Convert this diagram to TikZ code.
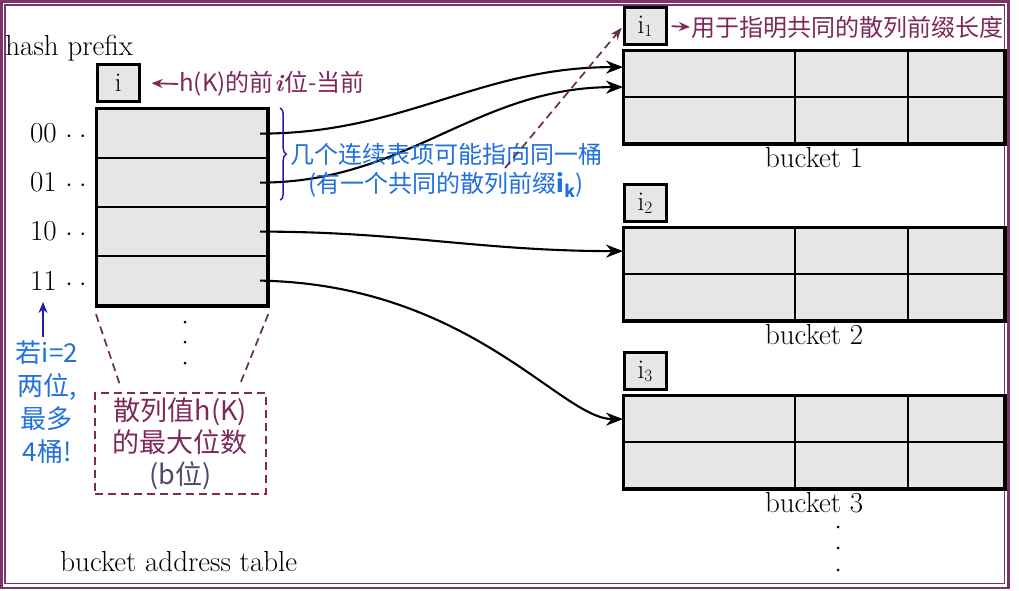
\documentclass[tikz,border=0pt]{standalone}
\usepackage{fontspec}
\newfontfamily\cjk{Noto Sans CJK SC}
\usetikzlibrary{positioning, calc, arrows.meta, decorations.pathreplacing}

\definecolor{framec}{RGB}{122,52,102}
\definecolor{ptext}{RGB}{128,40,88}
\definecolor{pdark}{RGB}{105,45,80}
\definecolor{slate}{RGB}{80,70,110}
\definecolor{btext}{RGB}{32,112,222}
\definecolor{bdark}{RGB}{30,30,170}
\definecolor{cellgray}{RGB}{230,230,230}

\begin{document}
\begin{tikzpicture}[x=1pt, y=-1pt, thick,
    cell/.style={draw, line width=2.2pt, fill=cellgray, inner sep=0pt, anchor=north west},
    ibox/.style={draw, line width=2.6pt, fill=cellgray, inner sep=0pt,
                 minimum width=42pt, minimum height=37pt, font=\fontsize{27}{30}\selectfont},
    lbl/.style={font=\fontsize{29}{33}\selectfont},
    cn/.style={font=\cjk\fontsize{24}{29}\selectfont, inner sep=1pt},
    ptr/.style={line width=2.1pt, -{Stealth[length=17pt,width=13pt]}},
    parrow/.style={ptext, line width=1.8pt, -{Stealth[length=11pt,width=9pt]}},
    pdash/.style={pdark, line width=1.7pt, dash pattern=on 8pt off 5pt}]

	\fill[white] (0,0) rectangle (1019,590);
	\useasboundingbox (0,0) rectangle (1019,590);
	\draw[framec, line width=2.6pt] (1.5,1.5) rectangle (1008.5,588);
	\draw[framec, line width=1.2pt] (5,5) rectangle (1004.5,583.5);

	%bucket address table
	\foreach \r/\y/\b in {1/108/00, 2/157/01, 3/206/10, 4/255/11} {
		\node[cell, minimum width=170pt, minimum height=49pt] (t\r) at (96,\y) {};
		\node[lbl, left=6pt of t\r] (l\r) {\b\ $\cdot\;\cdot$};
		\coordinate (p\r) at ($(t\r.east)+(-8,0)$);
	}
	\draw[line width=3pt] (t1.north west) rectangle (t4.south east);
	\node[ibox, above right=5pt and 0pt of t1.north west] (ib) {i};
	\node[lbl, anchor=base west, inner sep=0pt] (hp) at (5,55) {hash prefix};
	\node[lbl, anchor=base west, inner sep=0pt] (bat) at (60,571) {bucket address table};
	\foreach \y in {322,342,363} \fill (185,\y) circle (1.5pt);

	%buckets
	\foreach \n/\t in {1/50, 2/227, 3/395} {
		\foreach \c/\x/\w in {1/623/171, 2/794/113, 3/907/96}
			\foreach \r in {0,1}
				\node[cell, minimum width=\w pt, minimum height=46pt] (b\n-\r\c) at (\x,{\t+46*\r}) {};
		\draw[line width=3pt] (b\n-01.north west) rectangle (b\n-13.south east);
		\node[ibox, above right=4pt and 0pt of b\n-01.north west] (i\n) {i$_\n$};
		\node[lbl, below=-1pt] (bl\n) at ($(b\n-11.south west)!.5!(b\n-13.south east)$) {bucket \n};
	}
	\foreach \y in {527,548,570} \fill (838,\y) circle (1.5pt);

	%ponteiros
	\draw[ptr] (p1) to[out=0,in=180] ([yshift=7pt]b1-01.west);
	\draw[ptr] (p2) to[out=0,in=180] ([yshift=-13pt]b1-01.west);
	\draw[ptr] (p3) to[out=0,in=180] (b2-01.west);
	\draw[ptr] (p4) .. controls +(210,4) and +(-62,0) .. (b3-01.west);

	%notas
	\node[cn, ptext, anchor=west] (hk) at (178,84) {h(K)的前\kern1pt{\rmfamily\bfseries\itshape i}\kern1pt位-当前};
	\draw[parrow] (hk.west) -- ([xshift=11pt]ib.east);
	\node[cn, ptext, anchor=west] (note1) at (690,27) {用于指明共同的散列前缀长度};
	\draw[parrow] ([xshift=4pt]i1.east) -- (note1.west);

	\draw[bdark, line width=1.5pt, decorate, decoration={brace, amplitude=6pt}]
		([xshift=12pt]t1.north east) -- ([xshift=12pt,yshift=8pt]t2.south east);
	\node[cn, btext, align=center] (same) at (446,170)
		{几个连续表项可能指向同一桶\\(有一个共同的散列前缀\textbf{i}\textsubscript{\textbf{k}})};
	\coordinate (dk) at (505,168);
	\draw[pdash, -{Stealth[length=12pt,width=9pt]}, shorten >=2pt] (dk) -- (i1.west);

	\node[draw=pdark, line width=1.7pt, dash pattern=on 8pt off 5pt, minimum width=171pt,
		minimum height=101pt, anchor=north west, align=center, ptext,
		font=\cjk\fontsize{27}{32}\selectfont] (hb) at (94,392)
		{散列值h(K)\\的最大位数\\{\color{slate}(b位)}};
	\draw[pdash] ([yshift=-8pt]t4.south west) -- ([xshift=26pt,yshift=7pt]hb.north west);
	\draw[pdash] ([yshift=-8pt]t4.south east) -- ([xshift=-27pt,yshift=7pt]hb.north east);

	\node[btext, align=center, font=\cjk\fontsize{26}{33}\selectfont] (rq) at (47,402)
		{若i=2\\两位,\\最多\\4桶!};
	\coordinate (up) at (43,302);
	\draw[bdark, line width=1.8pt, -{Stealth[length=11pt,width=9pt]}] (rq.north -| up) -- (up);
\end{tikzpicture}
\end{document}
